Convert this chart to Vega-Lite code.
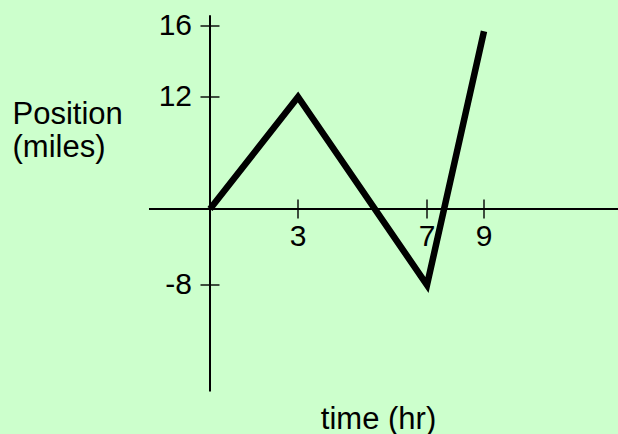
{
  "$schema": "https://vega.github.io/schema/vega-lite/v6.json",
  "width": 618,
  "height": 434,
  "padding": 0,
  "autosize": {"type": "none"},
  "background": "#ccffcc",
  "config": {
    "view": {"stroke": null},
    "font": "Liberation Sans",
    "axis": {"domain": false, "ticks": false, "labels": false, "grid": false}
  },
  "datasets": {
    "path": [
      {"t": 0, "pos": 0},
      {"t": 3, "pos": 12},
      {"t": 7, "pos": -8},
      {"t": 9, "pos": 15.7}
    ],
    "axes": [
      {"t": -2.08, "t2": 13.8, "pos": 0, "pos2": 0},
      {"t": 0, "t2": 0, "pos": -19.2, "pos2": 16.6}
    ],
    "xticks": [
      {"t": 3, "pos": 0, "label": "3"},
      {"t": 7, "pos": 0, "label": "7"},
      {"t": 9, "pos": 0, "label": "9"}
    ],
    "yticks": [
      {"t": 0, "pos": 16, "label": "16"},
      {"t": 0, "pos": 12, "label": "12"},
      {"t": 0, "pos": -8, "label": "-8"}
    ]
  },
  "encoding": {
    "x": {
      "field": "t",
      "type": "quantitative",
      "scale": {"domain": [0, 3, 7, 9], "range": [210, 298, 427, 484], "nice": false, "zero": false},
      "axis": {
        "orient": "bottom",
        "title": "time (hr)",
        "titleFontSize": 31,
        "titleFont": "Liberation Sans",
        "titleFontWeight": "normal",
        "titleColor": "black",
        "titleX": 378,
        "titleY": -6,
        "titleAlign": "center",
        "titleBaseline": "alphabetic",
        "titleAnchor": null
      }
    },
    "y": {
      "field": "pos",
      "type": "quantitative",
      "scale": {"domain": [-8, 0, 12, 16], "range": [285, 209, 97, 26], "nice": false, "zero": false},
      "axis": {
        "orient": "left",
        "title": ["Position", "(miles)"],
        "titleFontSize": 31,
        "titleFont": "Liberation Sans",
        "titleFontWeight": "normal",
        "titleColor": "black",
        "titleAngle": 0,
        "titleX": 12,
        "titleY": 123,
        "titleAlign": "left",
        "titleBaseline": "alphabetic",
        "titleLineHeight": 33.5,
        "titleAnchor": null
      }
    }
  },
  "layer": [
    {
      "data": {"name": "axes"},
      "mark": {"type": "rule", "color": "black", "strokeWidth": 2},
      "encoding": {
        "x2": {"field": "t2"},
        "y2": {"field": "pos2"}
      }
    },
    {
      "data": {"name": "xticks"},
      "mark": {"type": "tick", "orient": "vertical", "color": "black", "size": 19, "thickness": 2}
    },
    {
      "data": {"name": "xticks"},
      "mark": {"type": "text", "color": "black", "fontSize": 30, "baseline": "middle", "align": "center", "dy": 28},
      "encoding": {"text": {"field": "label"}}
    },
    {
      "data": {"name": "yticks"},
      "mark": {"type": "tick", "orient": "horizontal", "color": "black", "size": 19, "thickness": 2}
    },
    {
      "data": {"name": "yticks"},
      "mark": {"type": "text", "color": "black", "fontSize": 30, "baseline": "middle", "align": "right", "dx": -18},
      "encoding": {"text": {"field": "label"}}
    },
    {
      "data": {"name": "path"},
      "mark": {"type": "line", "color": "black", "strokeWidth": 6.5, "strokeJoin": "miter", "strokeCap": "butt"}
    }
  ]
}
